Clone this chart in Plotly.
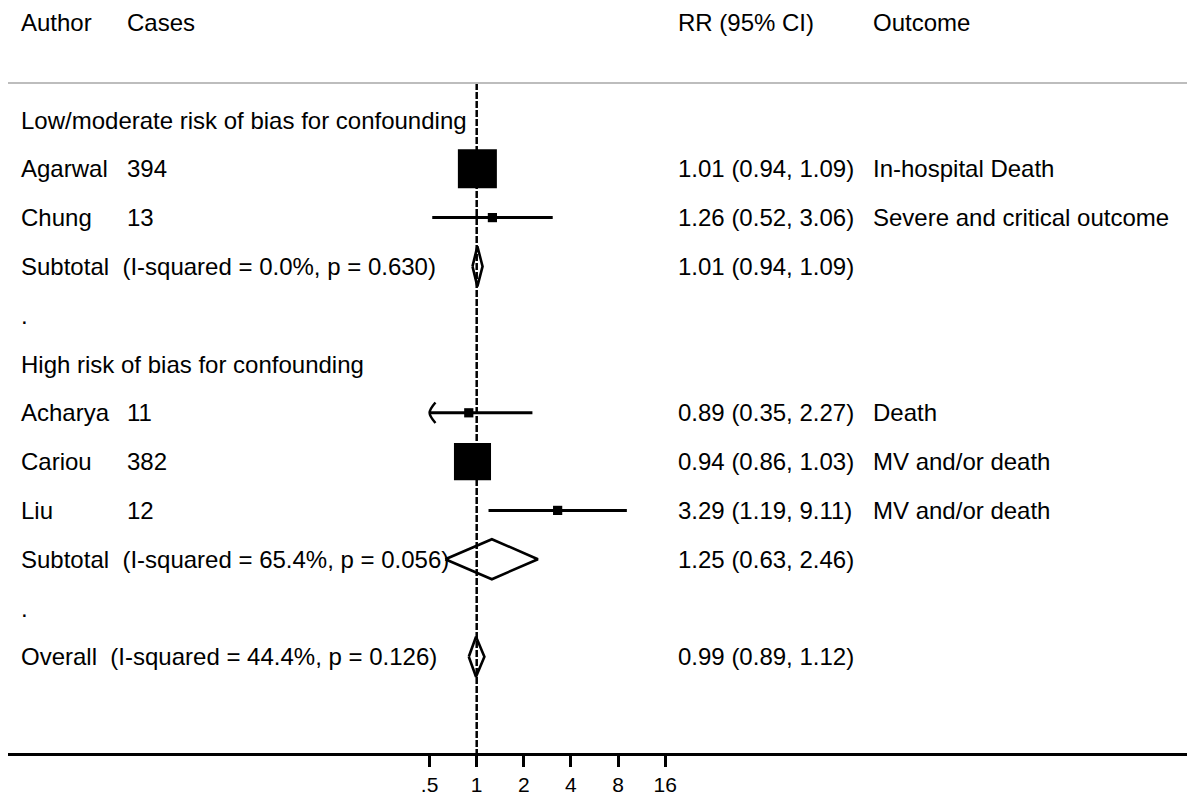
import numpy as np
import plotly.graph_objects as go

# ---------------- data ----------------
group_labels = ["Low/moderate risk of bias for confounding", "High risk of bias for confounding"]
authors = ["Agarwal", "Chung", "Acharya", "Cariou", "Liu"]
study_group = [0, 0, 1, 1, 1]
cases = [394, 13, 11, 382, 12]
rr = [1.01, 1.26, 0.89, 0.94, 3.29]
rr_lo = [0.94, 0.52, 0.35, 0.86, 1.19]
rr_hi = [1.09, 3.06, 2.27, 1.03, 9.11]
weights = [48.3, 2.7, 2.7, 43.6, 2.7]  # approximate % weights (box area)
outcomes = ["In-hospital Death", "Severe and critical outcome", "Death",
            "MV and/or death", "MV and/or death"]

sub_rr = [1.01, 1.25]
sub_lo = [0.94, 0.63]
sub_hi = [1.09, 2.46]
sub_i2 = ["0.0%", "65.4%"]
sub_p = ["0.630", "0.056"]

overall_rr = 0.99
overall_lo = 0.89
overall_hi = 1.12
overall_i2 = "44.4%"
overall_p = "0.126"

tick_vals = [0.5, 1, 2, 4, 8, 16]
tick_text = [".5", "1", "2", "4", "8", "16"]

headers = ["Author", "Cases", "RR (95% CI)", "Outcome"]

# ---------------- layout helpers ----------------
W, H = 1187, 796
ML, MB = 8, 43
PLOT_W = W - ML
x_one_px = 476.7          # pixel of RR = 1
px_per_log = 156.5        # pixels per log10 unit
log_min = (ML - x_one_px) / px_per_log
log_max = (W - x_one_px) / px_per_log

row0_px, row_h = 120.0, 48.8
plot_h = H - MB
y_top = -row0_px / row_h
y_bot = (plot_h - row0_px) / row_h
text_dy = 0.0

def px(xpix):
    return (xpix - ML) / PLOT_W

col_author, col_cases, col_rr, col_out = px(19), px(125), px(676), px(871)

FONT = "Liberation Sans, Arial, sans-serif"
FS = 24

fig = go.Figure()
ann = []

def txt(x, y, s):
    ann.append(dict(x=x, y=y + text_dy, xref="paper", yref="y", text=s, showarrow=False,
                    xanchor="left", yanchor="middle",
                    font=dict(family=FONT, size=FS, color="black")))

# header
hy = -2
for c, h in zip([col_author, col_cases, col_rr, col_out], headers):
    txt(c, hy, h)

# separator line
sep_y = (83 - row0_px) / row_h
fig.add_shape(type="line", xref="paper", yref="y", x0=0, x1=1, y0=sep_y, y1=sep_y,
              line=dict(color="#bdbdbd", width=2))

# null line (dashed)
fig.add_trace(go.Scatter(x=[1, 1], y=[sep_y, y_bot], mode="lines",
                         line=dict(color="black", width=2.5, dash="7px,2px"),
                         hoverinfo="skip", showlegend=False))

diam_h = 0.41

def diamond(r, lo, hi, row):
    fig.add_trace(go.Scatter(x=[lo, r, hi, r, lo], y=[row, row - diam_h, row, row + diam_h, row],
                             mode="lines", line=dict(color="black", width=2.6),
                             hoverinfo="skip", showlegend=False))

axis_lo = tick_vals[0]
axis_hi = tick_vals[-1]

row = 0
for g in range(2):
    txt(col_author, row, group_labels[g])
    row += 1
    for i in range(len(authors)):
        if study_group[i] != g:
            continue
        txt(col_author, row, authors[i])
        txt(col_cases, row, str(cases[i]))
        txt(col_rr, row, f"{rr[i]:.2f} ({rr_lo[i]:.2f}, {rr_hi[i]:.2f})")
        txt(col_out, row, outcomes[i])
        lo_c = max(rr_lo[i], axis_lo)
        hi_c = min(rr_hi[i], axis_hi)
        fig.add_trace(go.Scatter(x=[lo_c, hi_c], y=[row, row], mode="lines",
                                 line=dict(color="black", width=3),
                                 hoverinfo="skip", showlegend=False))
        if rr_lo[i] < axis_lo:
            ah = 0.21
            fig.add_trace(go.Scatter(x=[axis_lo * 1.09, axis_lo, axis_lo * 1.09],
                                     y=[row - ah, row, row + ah], mode="lines",
                                     line=dict(color="black", width=2.5, shape="spline"),
                                     hoverinfo="skip", showlegend=False))
        size = 39 * np.sqrt(weights[i] / 48.3)
        fig.add_trace(go.Scatter(x=[rr[i]], y=[row], mode="markers",
                                 marker=dict(symbol="square", size=size, color="black",
                                             line=dict(width=0)),
                                 hoverinfo="skip", showlegend=False))
        row += 1
    txt(col_author, row, f"Subtotal\u00a0\u00a0(I-squared = {sub_i2[g]}, p = {sub_p[g]})")
    txt(col_rr, row, f"{sub_rr[g]:.2f} ({sub_lo[g]:.2f}, {sub_hi[g]:.2f})")
    diamond(sub_rr[g], sub_lo[g], sub_hi[g], row)
    row += 1
    txt(col_author, row, ".")
    row += 1

txt(col_author, row, f"Overall\u00a0\u00a0(I-squared = {overall_i2}, p = {overall_p})")
txt(col_rr, row, f"{overall_rr:.2f} ({overall_lo:.2f}, {overall_hi:.2f})")
diamond(overall_rr, overall_lo, overall_hi, row)

fig.update_layout(
    width=W, height=H,
    margin=dict(l=ML, r=0, t=0, b=MB, pad=0, autoexpand=False),
    paper_bgcolor="white", plot_bgcolor="white",
    annotations=ann,
    showlegend=False,
    xaxis=dict(type="log", range=[log_min, log_max], tickvals=tick_vals, ticktext=tick_text,
               ticks="outside", ticklen=11, tickwidth=2.5, tickcolor="black",
               automargin=False,
               showline=True, linecolor="black", linewidth=2.5,
               showgrid=False, zeroline=False, fixedrange=True,
               tickfont=dict(family=FONT, size=21, color="black")),
    yaxis=dict(range=[y_bot, y_top], visible=False, showgrid=False, zeroline=False,
               fixedrange=True, automargin=False),
)

fig.write_html("out.html")
